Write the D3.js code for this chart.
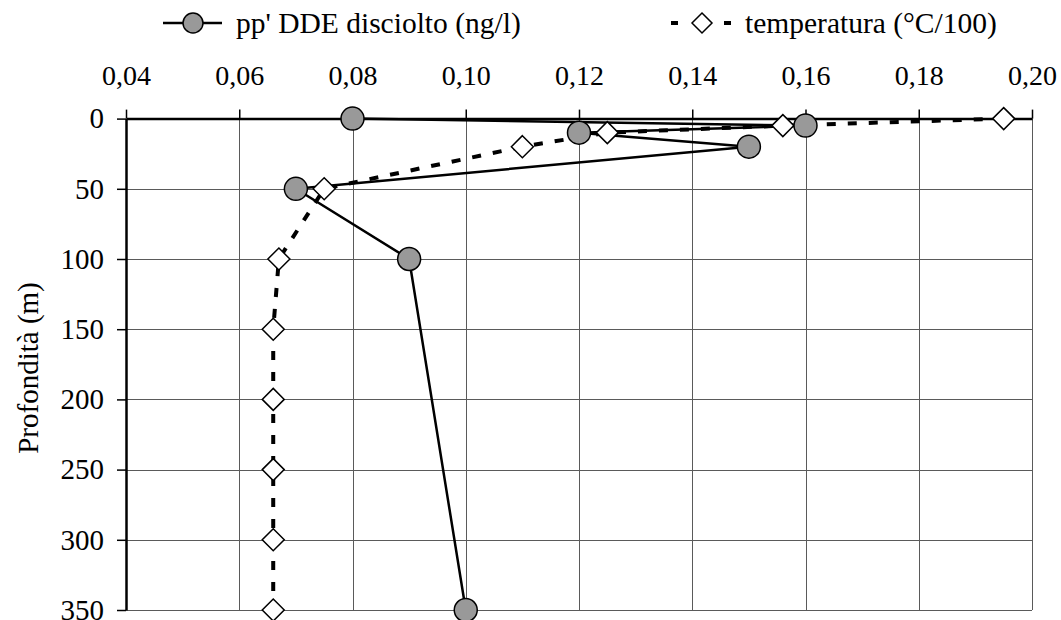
<!DOCTYPE html>
<html>
<head>
<meta charset="utf-8">
<script src="https://cdn.jsdelivr.net/npm/d3@7"></script>
<style>
  html, body { margin: 0; padding: 0; background: #fff; }
  svg { display: block; }
  svg text { font-family: "Liberation Serif", "Times New Roman", Times, serif; }
</style>
</head>
<body>
<svg id="chart" width="1061" height="620"></svg>
<script>
// Vertical profile: dissolved pp' DDE and temperature vs depth
const depthTicks = [0, 50, 100, 150, 200, 250, 300, 350];
const valueTicks = [0.04, 0.06, 0.08, 0.10, 0.12, 0.14, 0.16, 0.18, 0.20];

const ddeDepth = [0, 5, 10, 20, 50, 100, 350];
const ddeValue = [0.08, 0.16, 0.12, 0.15, 0.07, 0.09, 0.10];

const tempDepth = [0, 5, 10, 20, 50, 100, 150, 200, 250, 300, 350];
const tempValue = [0.195, 0.156, 0.125, 0.11, 0.075, 0.067, 0.066, 0.066, 0.066, 0.066, 0.066];

const ddeLabel = "pp' DDE disciolto (ng/l)";
const tempLabel = "temperatura (°C/100)";
const yTitle = "Profondità (m)";

(function draw() {
  const svg = d3.select("#chart");
  const pl = 126, pr = 1032, pt = 118.6, pb = 610;

  const x = d3.scaleLinear().domain([0.04, 0.20]).range([pl, pr]);
  const y = d3.scaleLinear().domain([0, 350]).range([pt, pb]);

  const itFmt = d3.formatLocale({decimal: ",", thousands: ".", grouping: [3], currency: ["", "€"]});
  const fmtX = itFmt.format(".2f");

  // grid
  const grid = svg.append("g").attr("stroke", "#5a5a5a").attr("stroke-width", 1);
  grid.selectAll("line.v").data(valueTicks.slice(1)).join("line").attr("class", "v")
    .attr("x1", d => Math.round(x(d)) + 0.5).attr("x2", d => Math.round(x(d)) + 0.5)
    .attr("y1", pt).attr("y2", pb);
  grid.selectAll("line.h").data(depthTicks.slice(1)).join("line").attr("class", "h")
    .attr("x1", pl).attr("x2", pr)
    .attr("y1", d => Math.round(y(d)) + 0.5).attr("y2", d => Math.round(y(d)) + 0.5);

  // top axis
  const xAxis = svg.append("g").attr("transform", `translate(0,${pt})`)
    .call(d3.axisTop(x).tickValues(valueTicks).tickFormat(fmtX).tickSize(9).tickSizeOuter(0).tickPadding(24.6));
  xAxis.attr("font-family", null);
  xAxis.select(".domain").attr("stroke", "#000").attr("stroke-width", 2.5);
  xAxis.selectAll(".tick line").attr("stroke", "#000").attr("stroke-width", 1.5);
  xAxis.selectAll(".tick text").attr("font-size", 28).attr("fill", "#000");

  // left axis
  const yAxis = svg.append("g").attr("transform", `translate(${pl},0)`)
    .call(d3.axisLeft(y).tickValues(depthTicks).tickSize(9).tickSizeOuter(0).tickPadding(13));
  yAxis.attr("font-family", null);
  yAxis.select(".domain").attr("stroke", "#000").attr("stroke-width", 2.5);
  yAxis.selectAll(".tick line").attr("stroke", "#000").attr("stroke-width", 1.5);
  yAxis.selectAll(".tick text").attr("font-size", 29).attr("fill", "#000");

  svg.append("text")
    .attr("transform", `translate(38,368) rotate(-90)`)
    .attr("text-anchor", "middle").attr("font-size", 29).attr("fill", "#000")
    .text(yTitle);

  // series
  const tempPts = tempDepth.map((d, i) => [tempValue[i], d]);
  const ddePts = ddeDepth.map((d, i) => [ddeValue[i], d]);
  const line = d3.line().x(p => x(p[0])).y(p => y(p[1]));

  svg.append("path").attr("d", line(tempPts)).attr("fill", "none")
    .attr("stroke", "#000").attr("stroke-width", 4).attr("stroke-dasharray", "9,12");
  svg.append("path").attr("d", line(ddePts)).attr("fill", "none")
    .attr("stroke", "#000").attr("stroke-width", 2.5).attr("stroke-linejoin", "round");

  const diamond = (cx, cy, r) => `M${cx},${cy - r}L${cx + r},${cy}L${cx},${cy + r}L${cx - r},${cy}Z`;
  svg.append("g").selectAll("path").data(tempPts).join("path")
    .attr("d", p => diamond(x(p[0]), y(p[1]), 11))
    .attr("fill", "#fff").attr("stroke", "#000").attr("stroke-width", 1.5);
  svg.append("g").selectAll("circle").data(ddePts).join("circle")
    .attr("cx", p => x(p[0])).attr("cy", p => y(p[1])).attr("r", 11.5)
    .attr("fill", "#999").attr("stroke", "#000").attr("stroke-width", 1.5);

  // legend
  const ly = 23;
  const lg = svg.append("g");
  lg.append("line").attr("x1", 163).attr("x2", 222).attr("y1", ly).attr("y2", ly)
    .attr("stroke", "#000").attr("stroke-width", 2.5);
  lg.append("circle").attr("cx", 193).attr("cy", ly).attr("r", 10)
    .attr("fill", "#999").attr("stroke", "#000").attr("stroke-width", 1.5);
  lg.append("text").attr("x", 236).attr("y", ly + 9.5).attr("font-size", 29.5).attr("fill", "#000").text(ddeLabel);

  lg.append("line").attr("x1", 671).attr("x2", 732).attr("y1", ly).attr("y2", ly)
    .attr("stroke", "#000").attr("stroke-width", 4).attr("stroke-dasharray", "7,46");
  lg.append("path").attr("d", diamond(702, ly, 10))
    .attr("fill", "#fff").attr("stroke", "#000").attr("stroke-width", 1.5);
  lg.append("text").attr("x", 745).attr("y", ly + 9.5).attr("font-size", 29.5).attr("fill", "#000").text(tempLabel);
})();
</script>
</body>
</html>
